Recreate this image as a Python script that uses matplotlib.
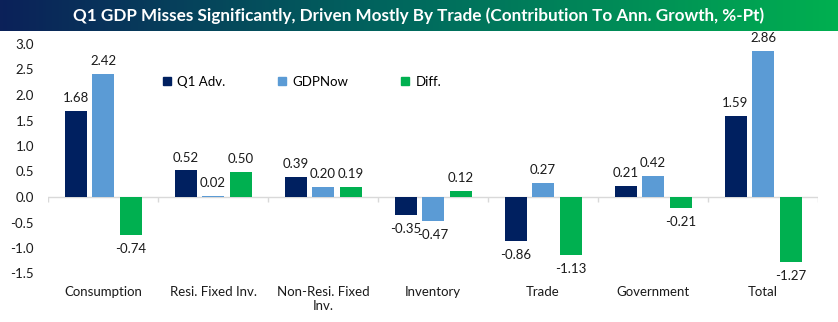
import numpy as np
import matplotlib.pyplot as plt
from matplotlib.colors import LinearSegmentedColormap
from matplotlib.patches import Patch

# Data
categories = ["Consumption", "Resi. Fixed Inv.", "Non-Resi. Fixed\nInv.", "Inventory",
              "Trade", "Government", "Total"]
q1_adv = [1.68, 0.52, 0.39, -0.35, -0.86, 0.21, 1.59]
gdpnow = [2.42, 0.02, 0.20, -0.47, 0.27, 0.42, 2.86]
diff = [-0.74, 0.50, 0.19, 0.12, -1.13, -0.21, -1.27]
series_names = ["Q1 Adv.", "GDPNow", "Diff."]
colors = ["#002060", "#5B9BD5", "#00B050"]

plt.rcParams['font.family'] = ['Lato', 'DejaVu Sans']

W, H = 838, 322
fig = plt.figure(figsize=(W / 100, H / 100), dpi=100, facecolor='white')

# Title bar with gradient
tax = fig.add_axes([0, 1 - 31 / H, 1, 31 / H])
cmap = LinearSegmentedColormap.from_list("tb", ["#0B2159", "#006B5E", "#00B050"])
tax.imshow(np.linspace(0, 1, 256).reshape(1, -1), aspect='auto', cmap=cmap,
           extent=[0, 1, 0, 1])
tax.set_axis_off()
tax.text(0.5, 0.48, "Q1 GDP Misses Significantly, Driven Mostly By Trade "
         "(Contribution To Ann. Growth, %-Pt)", color='white', fontsize=12.3,
         fontweight='bold', ha='center', va='center', transform=tax.transAxes)

# Main axes
ax = fig.add_axes([48 / W, (H - 273.5) / H, 770 / W, (273.5 - 44) / H])
x = np.arange(len(categories))
width = 0.2
offsets = [-0.25, 0, 0.25]
for vals, name, col, off in zip([q1_adv, gdpnow, diff], series_names, colors, offsets):
    bars = ax.bar(x + off, vals, width, color=col, label=name)
    for b, v in zip(bars, vals):
        if v >= 0:
            ax.annotate(f"{v:.2f}", (b.get_x() + b.get_width() / 2, v),
                        xytext=(0, 5), textcoords='offset points',
                        ha='center', va='bottom', fontsize=9.5, color='#1a1a1a')
        else:
            ax.annotate(f"{v:.2f}", (b.get_x() + b.get_width() / 2, v),
                        xytext=(0, -6), textcoords='offset points',
                        ha='center', va='top', fontsize=9.5, color='#1a1a1a')

ax.set_xlim(-0.5, len(categories) - 0.5)
ax.set_ylim(-1.5, 3.0)
ax.set_yticks(np.arange(-1.5, 3.01, 0.5))
ax.set_yticklabels([f"{t:.1f}" for t in np.arange(-1.5, 3.01, 0.5)])
ax.set_xticks(x)
ax.set_xticklabels(categories)
ax.tick_params(axis='both', length=0, labelsize=9.5, colors='#1a1a1a')
ax.tick_params(axis='x', pad=9)
ax.tick_params(axis='y', pad=10)
for s in ax.spines.values():
    s.set_visible(False)

# zero line with category separators
ax.axhline(0, color='#D9D9D9', lw=1, zorder=0)
ax.vlines(np.arange(len(categories) + 1) - 0.5, -0.1, 0, color='#D9D9D9', lw=1, zorder=0)

handles = [Patch(color=c) for c in colors]
ax.legend(handles, series_names, loc='center', bbox_to_anchor=(0.33, 0.835),
          ncol=3, frameon=False, fontsize=9.5, handlelength=0.6, handleheight=0.6,
          handletextpad=0.5, columnspacing=4.0)

fig.savefig("out.png", dpi=100)
